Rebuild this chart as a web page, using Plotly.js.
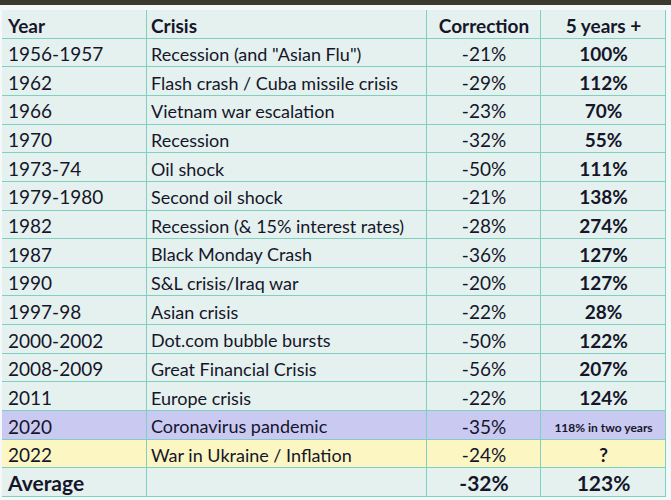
<!DOCTYPE html>
<html>
<head>
<meta charset="utf-8">
<script src="https://cdn.plot.ly/plotly-3.0.1.min.js"></script>
<style>
  body { margin: 0; background: #f4f8f8; }
  #plot { width: 671px; height: 500px; }
</style>
</head>
<body>
<div id="plot"></div>
<script>
// dados da tabela
const headers = ["Year", "Crisis", "Correction", "5 years +"];
const years = ["1956-1957", "1962", "1966", "1970", "1973-74", "1979-1980", "1982",
  "1987", "1990", "1997-98", "2000-2002", "2008-2009", "2011", "2020", "2022"];
const crises = ['Recession (and "Asian Flu")', "Flash crash / Cuba missile crisis",
  "Vietnam war escalation", "Recession", "Oil shock", "Second oil shock",
  "Recession (& 15% interest rates)", "Black Monday Crash", "S&L crisis/Iraq war",
  "Asian crisis", "Dot.com bubble bursts", "Great Financial Crisis", "Europe crisis",
  "Coronavirus pandemic", "War in Ukraine / Inflation"];
const corrections = ["-21%", "-29%", "-23%", "-32%", "-50%", "-21%", "-28%", "-36%",
  "-20%", "-22%", "-50%", "-56%", "-22%", "-35%", "-24%"];
const fiveYears = ["100%", "112%", "70%", "55%", "111%", "138%", "274%", "127%",
  "127%", "28%", "122%", "207%", "124%", "118% in two years", "?"];
const averageRow = ["Average", "", "-32%", "123%"];

// layout das colunas (em px da área do gráfico)
const colEdges = [0, 145, 425, 539, 664];
const colAlign = ["left", "left", "center", "center"];
const colPad = [6, 4, 0, 0];
const textNudge = 0.12; // desce um pouco o texto dentro da linha
const fontFamily = "Lato, 'Open Sans', sans-serif";
const textColor = "#16162a";
const borderColor = "#7fcfc2";

const fills = ["#e5f1ef", "#c9c9f2", "#fbf6c2"];

const esc = (s) => s.replace(/&/g, "&amp;");
const bold = (s) => (s ? `<b>${s}</b>` : s);

// monta as colunas: cabeçalho + dados + média
const columns = [
  [bold(headers[0])].concat(years, [bold(averageRow[0])]),
  [bold(headers[1])].concat(crises.map(esc), [averageRow[1]]),
  [bold(headers[2])].concat(corrections, [bold(averageRow[2])]),
  [bold(headers[3])].concat(fiveYears.map(bold), [bold(averageRow[3])]),
];
const nRows = columns[0].length;
const rowIdx = columns[0].map((_, i) => i);

const sizes = [
  [19].concat(years.map(() => 19), [21]),
  [19].concat(crises.map(() => 18), [18]),
  [19].concat(corrections.map(() => 19), [21]),
  [19].concat(fiveYears.map((v) => (v.length > 6 ? 12 : 19)), [21]),
];

// código de cor por linha (2020 lilás, 2022 amarelo)
const rowCode = [0].concat(years.map((y) => (y === "2020" ? 1 : y === "2022" ? 2 : 0)), [0]);
const z = rowCode.map((c) => headers.map(() => c));

const cellTrace = {
  type: "heatmap",
  x: colEdges,
  y: rowIdx,
  z: z,
  zmin: 0,
  zmax: 2,
  colorscale: [[0, fills[0]], [0.5, fills[1]], [1, fills[2]]],
  showscale: false,
  xgap: 1,
  ygap: 1,
  hoverinfo: "skip",
};

const textTraces = columns.map((texts, c) => {
  const left = colEdges[c];
  const right = colEdges[c + 1];
  const x = colAlign[c] === "left" ? left + colPad[c] : (left + right) / 2;
  return {
    type: "scatter",
    mode: "text",
    x: texts.map(() => x),
    y: rowIdx.map((r) => r + textNudge),
    text: texts,
    textposition: colAlign[c] === "left" ? "middle right" : "middle center",
    textfont: { family: fontFamily, size: sizes[c], color: textColor },
    hoverinfo: "skip",
    cliponaxis: false,
    showlegend: false,
  };
});

const layout = {
  width: 671,
  height: 500,
  margin: { l: 2, r: 5, t: 10, b: 3, pad: 0 },
  paper_bgcolor: "#f4f8f8",
  plot_bgcolor: borderColor,
  showlegend: false,
  xaxis: {
    range: [colEdges[0], colEdges[colEdges.length - 1]],
    visible: false,
    fixedrange: true,
  },
  yaxis: {
    range: [nRows - 0.5, -0.5],
    visible: false,
    fixedrange: true,
  },
  shapes: [
    {
      type: "rect", xref: "paper", yref: "paper",
      x0: -0.01, x1: 1.02, y0: 1 + 5 / 487, y1: 1 + 10 / 487,
      fillcolor: "#3b3a2f", line: { width: 0 },
    },
  ],
};

Plotly.newPlot("plot", [cellTrace].concat(textTraces), layout, { displayModeBar: false, staticPlot: true });
</script>
</body>
</html>
